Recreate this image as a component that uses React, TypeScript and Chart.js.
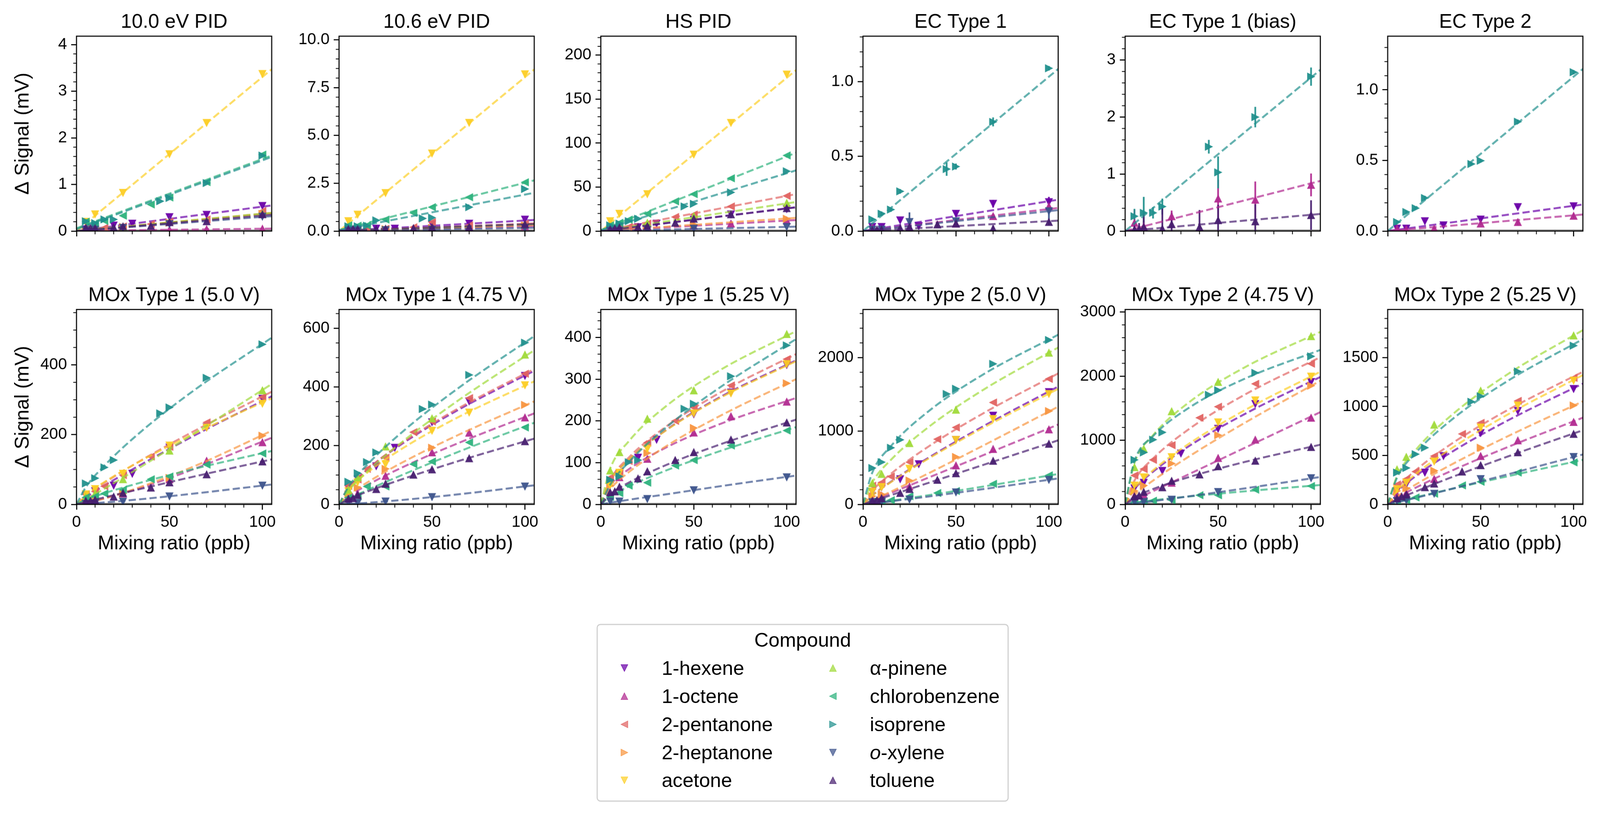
import React, { useEffect, useRef } from "react";
import { Chart, registerables } from "chart.js";
Chart.register(...registerables);

const FONT = '"Liberation Sans", Arial, Helvetica, sans-serif';

// ---------- compounds ----------
const COMPOUNDS = ["1-hexene", "1-octene", "2-pentanone", "2-heptanone", "acetone", "α-pinene", "chlorobenzene", "isoprene", "o-xylene", "toluene"];
const COLORS = ["#6a00a8", "#b12a90", "#e16462", "#f89540", "#fcce25", "#a0da39", "#2db27d", "#21908d", "#3b528b", "#471e6f"];
const MARKERS = ["v", "^", "<", ">", "v", "^", "<", ">", "v", "^"];

// mixing ratios (ppb) per compound
const X_HEXENE = [5, 10, 20, 30, 50, 70, 100];
const X_OCTENE = [5, 10, 25, 50, 70, 100];
const X_PENTANONE = [5, 10, 15, 25, 40, 50, 70, 100];
const X_HEPTANONE = [5, 10, 25, 50, 100];
const X_ACETONE = [5, 10, 25, 50, 70, 100];
const X_PINENE = [5, 10, 25, 50, 100];
const X_CHLOROBENZENE = [5, 10, 15, 25, 40, 50, 70, 100];
const X_ISOPRENE = [5, 10, 15, 20, 45, 50, 70, 100];
const X_OXYLENE = [5, 10, 25, 50, 100];
const X_TOLUENE = [5, 7.5, 10, 20, 25, 40, 50, 70, 100];
const X_BY_COMPOUND = [X_HEXENE, X_OCTENE, X_PENTANONE, X_HEPTANONE, X_ACETONE, X_PINENE, X_CHLOROBENZENE, X_ISOPRENE, X_OXYLENE, X_TOLUENE];

// x positions where fit curves were read
const FIT_X_LINEAR = [0, 105];
const FIT_X_CURVE = [0, 5, 15, 35, 65, 105];

const X_MAX = 105;
const X_TICKS = [0, 50, 100];
const X_MINOR = [10, 20, 30, 40, 60, 70, 80, 90];

// ---------- panel data (compound order as COMPOUNDS) ----------
const Y_PID_100 = [
  [0.04, 0.06, 0.12, 0.16, 0.3, 0.35, 0.54],
  [0.01, 0.01, 0.02, 0.03, 0.04, 0.05],
  [0.05, 0.04, 0.07, 0.1, 0.15, 0.2, 0.25, 0.43],
  [0.02, 0.04, 0.09, 0.18, 0.37],
  [0.2, 0.36, 0.82, 1.65, 2.32, 3.37],
  [0.05, 0.04, 0.09, 0.2, 0.38],
  [0.2, 0.16, 0.22, 0.33, 0.57, 0.72, 1.05, 1.64],
  [0.21, 0.17, 0.25, 0.25, 0.64, 0.71, 1.03, 1.62],
  [0.02, 0.03, 0.07, 0.15, 0.31],
  [0.07, 0.06, 0.06, 0.08, 0.1, 0.11, 0.19, 0.21, 0.36],
];
const FIT_PID_100 = [[0, 0.55], [0.005, 0.052], [0, 0.39], [0, 0.38], [0, 3.47], [0, 0.39], [0.06, 1.62], [0.04, 1.59], [0, 0.32], [0, 0.35]];

const Y_PID_106 = [
  [0.1, 0.12, 0.13, 0.13, 0.35, 0.39, 0.6],
  [0.05, 0.05, 0.08, 0.12, 0.18, 0.25],
  [0.08, 0.1, 0.1, 0.12, 0.2, 0.47, 0.3, 0.38],
  [0.05, 0.06, 0.1, 0.17, 0.3],
  [0.52, 0.86, 1.99, 4.06, 5.66, 8.2],
  [0.05, 0.07, 0.1, 0.18, 0.35],
  [0.3, 0.28, 0.3, 0.6, 0.95, 1.25, 1.77, 2.55],
  [0.25, 0.25, 0.28, 0.56, 0.66, 0.7, 1.25, 2.2],
  [0.02, 0.03, 0.05, 0.08, 0.15],
  [0.1, 0.1, 0.1, 0.1, 0.12, 0.15, 0.2, 0.22, 0.36],
];
const FIT_PID_106 = [[0, 0.58], [0, 0.26], [0, 0.4], [0, 0.32], [0, 8.45], [0, 0.36], [0.05, 2.65], [0.05, 2.0], [0, 0.17], [0.02, 0.37]];

const Y_HS_PID = [
  [1.5, 3, 4.5, 8.5, 13, 19, 25],
  [1, 1.5, 4, 6, 8.5, 12],
  [2, 3, 4.7, 8.5, 16, 18.8, 28, 40],
  [1, 2, 4, 7.5, 14],
  [11.3, 19.7, 42, 87, 123, 178],
  [2, 4, 9.4, 17, 32],
  [6.5, 9.4, 13, 19.7, 33.8, 42, 60, 86],
  [6.5, 8.5, 11.3, 14, 28, 31, 44, 68],
  [0.3, 0.6, 1.3, 2.8, 4.7],
  [2, 3, 4, 4.7, 5.6, 9.4, 14, 19, 26],
];
const FIT_HS_PID = [[0, 27], [0, 12.5], [0, 42], [0, 15], [0, 183], [0, 33], [1, 89], [1, 69], [0, 5], [0, 27]];

const Y_EC1 = [
  [0.028, 0.028, 0.072, 0.033, 0.116, 0.183, 0.194],
  [0.028, 0.01, 0.02, 0.05, 0.1, 0.166],
  null, null, null, null, null,
  [0.078, 0.116, 0.144, 0.266, 0.415, 0.432, 0.731, 1.09],
  [0.01, 0.01, 0.061, 0.066, 0.133],
  [0.005, 0.01, 0.01, 0.02, 0.028, 0.044, 0.05, 0.017, 0.061],
];
const ERR_EC1 = [
  [0.01, 0.01, 0.015, 0.01, 0.02, 0.025, 0.035],
  [0.01, 0.01, 0.01, 0.01, 0.015, 0.02],
  null, null, null, null, null,
  [0.01, 0.015, 0.015, 0.015, 0.045, 0.02, 0.03, 0.015],
  [0.01, 0.01, 0.064, 0.02, 0.08],
  [0.01, 0.01, 0.01, 0.01, 0.015, 0.015, 0.015, 0.02, 0.02],
];
const FIT_EC1 = [[0, 0.21], [0, 0.155], null, null, null, null, null, [0, 1.085], [0, 0.14], [0, 0.07]];

const Y_EC1_BIAS = [
  null,
  [0.145, 0.08, 0.26, 0.57, 0.55, 0.81],
  null, null, null, null, null,
  [0.26, 0.32, 0.32, 0.43, 1.48, 1.03, 2.0, 2.71],
  null,
  [0.03, 0.04, 0.07, 0.04, 0.12, 0.07, 0.19, 0.17, 0.28],
];
const ERR_EC1_BIAS = [
  null,
  [0.23, 0.1, 0.1, 0.33, 0.32, 0.2],
  null, null, null, null, null,
  [0.13, 0.28, 0.1, 0.14, 0.12, 0.28, 0.18, 0.16],
  null,
  [0.1, 0.1, 0.25, 0.36, 0.2, 0.3, 0.27, 0.3, 0.26],
];
const FIT_EC1_BIAS = [null, [0, 0.88], null, null, null, null, null, [0, 2.83], null, [0, 0.3]];

const Y_EC2 = [
  [0.018, 0.018, 0.07, 0.041, 0.082, 0.17, 0.176],
  [0.018, 0.012, 0.018, 0.053, 0.064, 0.108],
  null, null, null, null, null,
  [0.064, 0.135, 0.162, 0.234, 0.475, 0.498, 0.774, 1.125],
  null, null,
];
const ERR_EC2 = [
  [0.005, 0.005, 0.01, 0.005, 0.01, 0.01, 0.02],
  [0.005, 0.005, 0.01, 0.01, 0.02, 0.015],
  null, null, null, null, null,
  [0.01, 0.01, 0.01, 0.015, 0.01, 0.01, 0.015, 0.015],
  null, null,
];
const FIT_EC2 = [[0, 0.188], [0, 0.117], null, null, null, null, null, [0, 1.148], null, null];

const Y_MOX1_500 = [
  [25, 38, 54, 88, 163, 221, 303],
  [8, 12, 31, 72, 125, 178],
  [29, 37, 52, 84, 137, 165, 235, 308],
  [8, 16, 31, 76, 197],
  [29, 44, 88, 169, 220, 289],
  [20, 31, 72, 154, 327],
  [20, 23, 31, 42, 72, 80, 114, 146],
  [60, 75, 106, 127, 261, 278, 363, 459],
  [2, 3, 8, 23, 54],
  [10, 10, 13, 22, 33, 48, 63, 86, 123],
];
const FIT_MOX1_500 = [
  [0, 20, 54, 115, 202, 310],
  [0, 4, 17, 48, 105, 191],
  [0, 25, 62, 127, 215, 323],
  [0, 4, 17, 51, 113, 211],
  [0, 27, 64, 126, 207, 304],
  [0, 14, 45, 109, 209, 345],
  [0, 13, 32, 63, 104, 153],
  [0, 49, 111, 210, 334, 478],
  [0, 1.5, 5.5, 15, 32, 57],
  [0, 7, 20, 45, 82, 129],
];

const Y_MOX1_475 = [
  [55, 86, 130, 193, 280, 351, 438],
  [28, 37, 97, 177, 244, 296],
  [63, 85, 121, 159, 246, 282, 362, 445],
  [34, 57, 121, 193, 339],
  [45, 75, 137, 251, 313, 406],
  [50, 92, 197, 293, 510],
  [23, 28, 61, 61, 137, 146, 211, 262],
  [77, 106, 144, 177, 325, 340, 441, 551],
  [5, 5, 10, 25, 61],
  [19, 21, 32, 52, 70, 101, 119, 157, 215],
];
const FIT_MOX1_475 = [
  [0, 54, 117, 211, 325, 455],
  [0, 27, 65, 129, 211, 310],
  [0, 55, 118, 214, 330, 461],
  [0, 31, 74, 146, 239, 351],
  [0, 50, 107, 194, 300, 419],
  [0, 46, 111, 218, 358, 525],
  [0, 18, 48, 103, 181, 278],
  [0, 59, 134, 252, 400, 573],
  [0, 1.2, 5.2, 15.6, 34.8, 65],
  [0, 17, 43, 88, 149, 224],
];

const Y_MOX1_525 = [
  [50, 73, 112, 155, 216, 268, 334],
  [60, 65, 109, 172, 211, 246],
  [64, 79, 104, 148, 200, 232, 285, 348],
  [45, 70, 123, 183, 290],
  [46, 76, 133, 218, 266, 336],
  [81, 125, 205, 273, 408],
  [18, 27, 45, 52, 93, 106, 141, 177],
  [59, 67, 101, 106, 229, 241, 307, 381],
  [7, 7, 13, 34, 65],
  [29, 31, 42, 62, 79, 106, 125, 155, 196],
];
const FIT_MOX1_525 = [
  [0, 56, 107, 178, 259, 345],
  [0, 45, 84, 136, 194, 255],
  [0, 58, 112, 186, 270, 360],
  [0, 36, 77, 139, 214, 300],
  [0, 55, 107, 177, 257, 343],
  [0, 85, 151, 235, 324, 415],
  [0, 19, 43, 81, 129, 185],
  [0, 47, 101, 184, 283, 396],
  [0, 4, 11, 24, 44, 69],
  [0, 24, 52, 94, 145, 203],
];

const Y_MOX2_500 = [
  [170, 236, 343, 548, 879, 1209, 1530],
  [84, 120, 245, 530, 754, 1021],
  [254, 298, 379, 575, 888, 1048, 1388, 1709],
  [111, 138, 325, 646, 1271],
  [173, 236, 486, 879, 1164, 1504],
  [289, 414, 834, 1289, 2066],
  [39, 39, 57, 111, 155, 182, 280, 396],
  [495, 575, 771, 879, 1504, 1575, 1914, 2239],
  [30, 30, 66, 164, 334],
  [48, 57, 84, 155, 209, 334, 423, 593, 825],
];
const FIT_MOX2_500 = [
  [0, 122, 308, 632, 1068, 1605],
  [0, 52, 155, 362, 673, 1087],
  [0, 184, 416, 784, 1245, 1784],
  [0, 54, 173, 420, 805, 1331],
  [0, 120, 302, 620, 1047, 1574],
  [0, 299, 606, 1048, 1565, 2137],
  [0, 15, 49, 124, 244, 414],
  [0, 433, 793, 1263, 1775, 2311],
  [0, 12, 42, 106, 209, 353],
  [0, 42, 125, 291, 540, 872],
];

const Y_MOX2_475 = [
  [250, 337, 523, 794, 1180, 1566, 1909],
  [137, 151, 337, 723, 1009, 1351],
  [451, 551, 694, 923, 1351, 1523, 1880, 2194],
  [209, 294, 637, 1080, 1851],
  [294, 423, 737, 1280, 1623, 1994],
  [580, 866, 1451, 1909, 2623],
  [37, 46, 57, 66, 143, 143, 229, 286],
  [694, 809, 1009, 1123, 1709, 1780, 2051, 2309],
  [37, 37, 74, 194, 409],
  [123, 137, 194, 266, 366, 466, 594, 680, 894],
];
const FIT_MOX2_475 = [
  [0, 236, 509, 921, 1420, 1987],
  [0, 69, 206, 480, 891, 1439],
  [0, 370, 715, 1188, 1722, 2296],
  [0, 147, 371, 759, 1283, 1928],
  [0, 246, 530, 959, 1479, 2069],
  [0, 643, 1078, 1606, 2148, 2691],
  [0, 26, 64, 125, 205, 302],
  [0, 671, 1064, 1519, 1969, 2409],
  [0, 15, 50, 128, 252, 427],
  [0, 111, 239, 432, 666, 931],
];

const Y_MOX2_525 = [
  [140, 203, 325, 494, 729, 955, 1180],
  [100, 118, 259, 494, 654, 842],
  [203, 259, 335, 494, 720, 833, 1058, 1293],
  [137, 165, 344, 579, 1011],
  [156, 222, 438, 786, 1011, 1265],
  [357, 485, 814, 1162, 1726],
  [34, 43, 71, 109, 194, 231, 325, 429],
  [325, 372, 513, 579, 1049, 1105, 1359, 1622],
  [34, 43, 109, 259, 485],
  [62, 81, 100, 175, 212, 335, 400, 532, 720],
];
const FIT_MOX2_525 = [
  [0, 127, 288, 542, 862, 1234],
  [0, 67, 170, 349, 589, 886],
  [0, 161, 347, 628, 969, 1355],
  [0, 80, 202, 414, 700, 1053],
  [0, 136, 309, 581, 923, 1322],
  [0, 287, 554, 922, 1336, 1781],
  [0, 25, 72, 161, 289, 455],
  [0, 272, 525, 874, 1267, 1689],
  [0, 21, 66, 161, 309, 510],
  [0, 49, 131, 282, 492, 758],
];

// ---------- panel axes ----------
const TITLES = ["10.0 eV PID", "10.6 eV PID", "HS PID", "EC Type 1", "EC Type 1 (bias)", "EC Type 2",
  "MOx Type 1 (5.0 V)", "MOx Type 1 (4.75 V)", "MOx Type 1 (5.25 V)", "MOx Type 2 (5.0 V)", "MOx Type 2 (4.75 V)", "MOx Type 2 (5.25 V)"];
const Y_MAX = [4.18, 10.19, 221.6, 1.305, 3.42, 1.38, 559, 664, 467, 2655, 3040, 1992];
const Y_MAJOR = [
  [0, 1, 2, 3, 4], [0, 2.5, 5, 7.5, 10], [0, 50, 100, 150, 200], [0, 0.5, 1], [0, 1, 2, 3], [0, 0.5, 1],
  [0, 200, 400], [0, 200, 400, 600], [0, 100, 200, 300, 400], [0, 1000, 2000], [0, 1000, 2000, 3000], [0, 500, 1000, 1500],
];
const Y_MINOR_STEP = [0.2, 0.5, 10, 0.1, 0.2, 0.1, 50, 50, 20, 200, 200, 100];
const Y_DECIMALS = [0, 1, 0, 1, 0, 1, 0, 0, 0, 0, 0, 0];

const PANEL_Y = [Y_PID_100, Y_PID_106, Y_HS_PID, Y_EC1, Y_EC1_BIAS, Y_EC2, Y_MOX1_500, Y_MOX1_475, Y_MOX1_525, Y_MOX2_500, Y_MOX2_475, Y_MOX2_525];
const PANEL_FIT = [FIT_PID_100, FIT_PID_106, FIT_HS_PID, FIT_EC1, FIT_EC1_BIAS, FIT_EC2, FIT_MOX1_500, FIT_MOX1_475, FIT_MOX1_525, FIT_MOX2_500, FIT_MOX2_475, FIT_MOX2_525];
const PANEL_ERR = [null, null, null, ERR_EC1, ERR_EC1_BIAS, ERR_EC2, null, null, null, null, null, null];

// ---------- layout (target pixels) ----------
const PAGE_W = 4205, PAGE_H = 2147;
const COL_LEFT = [201, 891, 1579, 2268, 2957, 3647];
const ROW_TOP = [95, 813];
const PLOT_W = 513;
const PLOT_H = 512;
const PAD_L = 180, PAD_R = 24, PAD_T = 92, PAD_B = 140;

function rgba(hex: string, a: number) {
  const n = parseInt(hex.slice(1), 16);
  return `rgba(${n >> 16},${(n >> 8) & 255},${n & 255},${a})`;
}

function trianglePts(kind: string, a: number, b: number) {
  const m = (a + b) / 2;
  if (kind === "v") return [[a, a], [b, a], [m, b]];
  if (kind === "^") return [[m, a], [a, b], [b, b]];
  if (kind === "<") return [[a, m], [b, a], [b, b]];
  return [[b, m], [a, a], [a, b]];
}

function makeMarker(color: string, kind: string, alpha: number) {
  const S = 19;
  const pad = 2;
  const c = document.createElement("canvas");
  c.width = S + 2 * pad;
  c.height = S + 2 * pad;
  const g = c.getContext("2d")!;
  const pts = trianglePts(kind, pad, pad + S);
  g.beginPath();
  pts.forEach(([x, y], i) => (i ? g.lineTo(x, y) : g.moveTo(x, y)));
  g.closePath();
  g.fillStyle = rgba(color, alpha);
  g.fill();
  g.strokeStyle = rgba(color, alpha);
  g.lineWidth = 1.5;
  g.stroke();
  return c;
}

function makeDecor(idx: number, row: number, col: number) {
  const yVals = PANEL_Y[idx];
  const errs = PANEL_ERR[idx];
  return {
    id: "decor",
    beforeDatasetsDraw(chart: any) {
      const { ctx, chartArea: a, scales } = chart;
      const xs = scales.x, ys = scales.y;
      ctx.save();
      ctx.beginPath();
      ctx.rect(a.left, a.top, a.right - a.left, a.bottom - a.top);
      ctx.clip();
      const y0 = ys.getPixelForValue(0);
      ctx.strokeStyle = "#8c8c8c";
      ctx.lineWidth = 3;
      ctx.beginPath();
      ctx.moveTo(a.left, y0 - 2.5);
      ctx.lineTo(a.right, y0 - 2.5);
      ctx.stroke();
      if (errs) {
        errs.forEach((e: number[] | null, i: number) => {
          const v = yVals[i];
          if (!e || !v) return;
          const xArr = X_BY_COMPOUND[i];
          ctx.strokeStyle = rgba(COLORS[i], 0.95);
          ctx.lineWidth = 4.5;
          e.forEach((err, k) => {
            const px = xs.getPixelForValue(xArr[k]);
            ctx.beginPath();
            ctx.moveTo(px, ys.getPixelForValue(v[k] - err));
            ctx.lineTo(px, ys.getPixelForValue(v[k] + err));
            ctx.stroke();
          });
        });
      }
      ctx.restore();
    },
    afterDraw(chart: any) {
      const { ctx, chartArea: a, scales } = chart;
      const xs = scales.x, ys = scales.y;
      ctx.save();
      ctx.strokeStyle = "#000";
      ctx.lineWidth = 2.8;
      ctx.strokeRect(a.left, a.top, a.right - a.left, a.bottom - a.top);
      ctx.lineWidth = 2.1;
      const step = Y_MINOR_STEP[idx];
      const majors = Y_MAJOR[idx];
      for (let k = 1; k * step < Y_MAX[idx]; k++) {
        const v = k * step;
        if (majors.some((m) => Math.abs(m - v) < step * 0.01)) continue;
        const py = ys.getPixelForValue(v);
        ctx.beginPath();
        ctx.moveTo(a.left - 8.5, py);
        ctx.lineTo(a.left, py);
        ctx.stroke();
      }
      X_MINOR.forEach((v) => {
        const px = xs.getPixelForValue(v);
        ctx.beginPath();
        ctx.moveTo(px, a.bottom);
        ctx.lineTo(px, a.bottom + 8.5);
        ctx.stroke();
      });
      ctx.fillStyle = "#000";
      ctx.font = `52px ${FONT}`;
      ctx.textAlign = "center";
      ctx.textBaseline = "alphabetic";
      const cx = (a.left + a.right) / 2;
      ctx.fillText(TITLES[idx], cx, a.top - 22);
      if (row === 1) ctx.fillText("Mixing ratio (ppb)", cx, a.bottom + 118);
      if (col === 0) {
        ctx.translate(a.left - 126, (a.top + a.bottom) / 2);
        ctx.rotate(-Math.PI / 2);
        ctx.fillText("Δ Signal (mV)", 0, 0);
      }
      ctx.restore();
    },
  };
}

function Panel({ idx }: { idx: number }) {
  const ref = useRef<HTMLCanvasElement>(null);
  const row = Math.floor(idx / 6);
  const col = idx % 6;
  const W = PLOT_W + PAD_L + PAD_R;
  const H = PLOT_H + PAD_T + PAD_B;
  useEffect(() => {
    const canvas = ref.current!;
    const yVals = PANEL_Y[idx];
    const fits = PANEL_FIT[idx];
    const curve = row === 1;
    const fitX = curve ? FIT_X_CURVE : FIT_X_LINEAR;
    const datasets: any[] = [];
    yVals.forEach((vals: number[] | null, i: number) => {
      if (!vals) return;
      const xArr = X_BY_COMPOUND[i];
      datasets.push({
        label: COMPOUNDS[i],
        data: xArr.map((x, k) => ({ x, y: vals[k] })),
        showLine: false,
        pointStyle: makeMarker(COLORS[i], MARKERS[i], 0.95),
        pointRadius: 10,
        pointHoverRadius: 10,
        order: -2 * i,
      });
      const f = fits[i] as number[];
      datasets.push({
        label: COMPOUNDS[i] + " fit",
        data: fitX.map((x, k) => ({ x, y: f[k] })),
        showLine: true,
        pointRadius: 0,
        pointHoverRadius: 0,
        borderColor: rgba(COLORS[i], 0.7),
        backgroundColor: rgba(COLORS[i], 0.7),
        borderWidth: 5.2,
        borderDash: [19, 8.5],
        cubicInterpolationMode: curve ? "monotone" : "default",
        tension: 0,
        fill: false,
        order: -2 * i - 1,
      });
    });
    const tickFont = { family: FONT, size: 42 };
    const gridOpts = { display: true, drawOnChartArea: false, drawTicks: true, tickLength: 14, tickWidth: 2.8, tickColor: "#000" };
    const chart = new Chart(canvas, {
      type: "scatter",
      data: { datasets },
      options: {
        animation: false,
        responsive: false,
        devicePixelRatio: 1,
        events: [],
        layout: { padding: { top: PAD_T, right: PAD_R, left: 0, bottom: 0 }, autoPadding: false },
        plugins: { legend: { display: false }, tooltip: { enabled: false }, title: { display: false } },
        scales: {
          x: {
            type: "linear",
            min: 0,
            max: X_MAX,
            afterBuildTicks: (s: any) => { s.ticks = X_TICKS.map((v) => ({ value: v })); },
            afterFit: (s: any) => { s.height = PAD_B; },
            ticks: {
              font: tickFont, color: "#000", padding: 8, maxRotation: 0, minRotation: 0, autoSkip: false,
              callback: (v: any) => (row === 0 ? "" : String(v)),
            },
            grid: gridOpts,
            border: { display: false },
          },
          y: {
            type: "linear",
            min: 0,
            max: Y_MAX[idx],
            afterBuildTicks: (s: any) => { s.ticks = Y_MAJOR[idx].map((v) => ({ value: v })); },
            afterFit: (s: any) => { s.width = PAD_L; },
            ticks: {
              font: tickFont, color: "#000", padding: 11, autoSkip: false,
              callback: (v: any) => Number(v).toFixed(Y_DECIMALS[idx]),
            },
            grid: gridOpts,
            border: { display: false },
          },
        },
      } as any,
      plugins: [makeDecor(idx, row, col) as any],
    });
    return () => chart.destroy();
  }, [idx]);
  return (
    <canvas
      ref={ref}
      width={W}
      height={H}
      style={{ position: "absolute", left: COL_LEFT[col] - PAD_L, top: ROW_TOP[row] - PAD_T, width: W, height: H }}
    />
  );
}

// ---------- legend ----------
const LEGEND_BOX = { left: 1568, top: 1639, width: 1083, height: 467 };
const LEGEND_BASELINES = [1773, 1847, 1921, 1995, 2068];
const LEGEND_MARKER_X = [1641, 2189];
const LEGEND_TEXT_X = [1739, 2286];

function LegendMarker({ i, cx, cy }: { i: number; cx: number; cy: number }) {
  const pts = trianglePts(MARKERS[i], 1, 19).map((p) => p.join(",")).join(" ");
  return (
    <svg width={20} height={20} style={{ position: "absolute", left: cx - 10, top: cy - 10 }}>
      <polygon points={pts} fill={COLORS[i]} fillOpacity={0.72} stroke={COLORS[i]} strokeOpacity={0.72} strokeWidth={1.5} />
    </svg>
  );
}

function Legend() {
  const items = COMPOUNDS.map((name, i) => {
    const colIdx = Math.floor(i / 5);
    const r = i % 5;
    const base = LEGEND_BASELINES[r];
    const label = name === "o-xylene" ? (<span><i>o</i>-xylene</span>) : name;
    return (
      <React.Fragment key={name}>
        <LegendMarker i={i} cx={LEGEND_MARKER_X[colIdx]} cy={base - 18} />
        <div style={{ position: "absolute", left: LEGEND_TEXT_X[colIdx], top: base - 47, fontSize: 52, lineHeight: "58px", whiteSpace: "nowrap", color: "#000" }}>
          {label}
        </div>
      </React.Fragment>
    );
  });
  return (
    <>
      <div style={{ position: "absolute", ...LEGEND_BOX, border: "3px solid #d0d0d0", borderRadius: 10, boxSizing: "border-box", background: "#fff" }} />
      <div style={{ position: "absolute", left: LEGEND_BOX.left, width: LEGEND_BOX.width, top: 1699 - 47, fontSize: 52, lineHeight: "58px", textAlign: "center", color: "#000" }}>
        Compound
      </div>
      {items}
    </>
  );
}

export default function App() {
  useEffect(() => {
    document.body.style.margin = "0";
    document.body.style.overflow = "hidden";
  }, []);
  const vw = typeof window !== "undefined" ? window.innerWidth : PAGE_W;
  const vh = typeof window !== "undefined" ? window.innerHeight : PAGE_H;
  const s = Math.min(1, vw / PAGE_W, vh / PAGE_H);
  return (
    <div style={{ position: "fixed", left: 0, top: 0, width: PAGE_W, height: PAGE_H, background: "#fff", overflow: "hidden", fontFamily: FONT, transform: `scale(${s})`, transformOrigin: "0 0" }}>
      {TITLES.map((_, i) => (
        <Panel key={i} idx={i} />
      ))}
      <Legend />
    </div>
  );
}
